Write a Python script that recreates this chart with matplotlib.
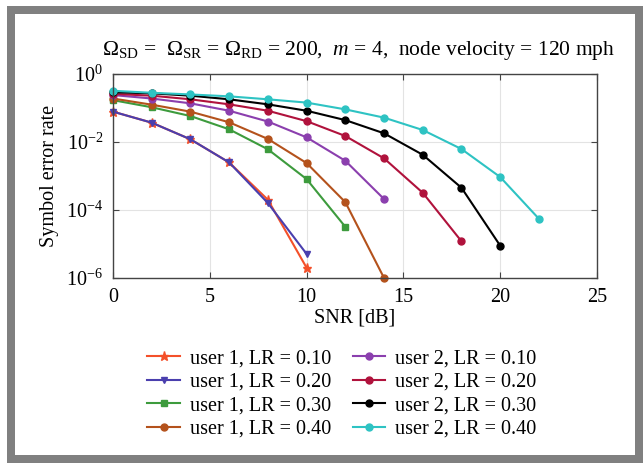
import matplotlib
matplotlib.use("Agg")
import matplotlib.pyplot as plt
from matplotlib.patches import Rectangle
from matplotlib.ticker import NullLocator, LogFormatterSciNotation

plt.rcParams['font.family'] = ['Liberation Serif', 'DejaVu Serif']
plt.rcParams['mathtext.fontset'] = 'custom'
plt.rcParams['mathtext.rm'] = 'Liberation Serif'
plt.rcParams['mathtext.it'] = 'Liberation Serif:italic'

# SNR in dB
snr_u1_10 = [0, 2, 4, 6, 8, 10]
ser_u1_10 = [7.8e-2, 3.7e-2, 1.2e-2, 2.5e-3, 2.0e-4, 2.0e-6]
snr_u1_20 = [0, 2, 4, 6, 8, 10]
ser_u1_20 = [7.8e-2, 3.7e-2, 1.2e-2, 2.5e-3, 1.6e-4, 5.1e-6]
snr_u1_30 = [0, 2, 4, 6, 8, 10, 12]
ser_u1_30 = [0.17, 0.105, 0.058, 0.0236, 6.1e-3, 8.1e-4, 3.2e-5]
snr_u1_40 = [0, 2, 4, 6, 8, 10, 12, 14]
ser_u1_40 = [0.19, 0.125, 0.078, 0.038, 0.0123, 2.4e-3, 1.7e-4, 1.0e-6]
snr_u2_10 = [0, 2, 4, 6, 8, 10, 12, 14]
ser_u2_10 = [0.24, 0.19, 0.137, 0.083, 0.04, 0.0137, 2.8e-3, 2.1e-4]
snr_u2_20 = [0, 2, 4, 6, 8, 10, 12, 14, 16, 18]
ser_u2_20 = [0.26, 0.23, 0.18, 0.128, 0.083, 0.041, 0.015, 3.3e-3, 3.2e-4, 1.2e-5]
snr_u2_30 = [0, 2, 4, 6, 8, 10, 12, 14, 16, 18, 20]
ser_u2_30 = [0.29, 0.27, 0.23, 0.18, 0.128, 0.083, 0.044, 0.018, 4.2e-3, 4.5e-4, 8.9e-6]
snr_u2_40 = [0, 2, 4, 6, 8, 10, 12, 14, 16, 18, 20, 22]
ser_u2_40 = [0.32, 0.28, 0.25, 0.22, 0.18, 0.144, 0.091, 0.052, 0.0225, 6.2e-3, 9.3e-4, 5.5e-5]

series = [
    (snr_u1_10, ser_u1_10, 'user 1, LR = 0.10', '#f4502a', '*'),
    (snr_u1_20, ser_u1_20, 'user 1, LR = 0.20', '#4a3fae', 'v'),
    (snr_u1_30, ser_u1_30, 'user 1, LR = 0.30', '#3d9b3d', 's'),
    (snr_u1_40, ser_u1_40, 'user 1, LR = 0.40', '#b4521c', 'o'),
    (snr_u2_10, ser_u2_10, 'user 2, LR = 0.10', '#8b3fae', 'o'),
    (snr_u2_20, ser_u2_20, 'user 2, LR = 0.20', '#b0123c', 'o'),
    (snr_u2_30, ser_u2_30, 'user 2, LR = 0.30', '#000000', 'o'),
    (snr_u2_40, ser_u2_40, 'user 2, LR = 0.40', '#2ec3c3', 'o'),
]

fig = plt.figure(figsize=(6.43, 4.63), dpi=100)
ax = fig.add_axes([0.1757, 0.3996, 0.7528, 0.4406])

for x, y, lab, col, mk in series:
    ms = 6.5 if mk == '*' else 5
    ax.plot(x, y, color=col, marker=mk, markersize=ms, linewidth=1.5, label=lab,
            clip_on=False)

ax.set_yscale('log')
ax.set_xlim(0, 25)
ax.set_ylim(1e-6, 1)
ax.set_xticks([0, 5, 10, 15, 20, 25])
ax.set_yticks([1e-6, 1e-4, 1e-2, 1])
ax.yaxis.set_minor_locator(NullLocator())
ax.yaxis.set_major_formatter(LogFormatterSciNotation())
ax.grid(True, color='#e3e3e3', linewidth=0.8)
ax.set_axisbelow(True)
ax.tick_params(direction='in', top=True, right=True, labelsize=14.5, length=4,
               color='#444444', pad=7)
for s in ax.spines.values():
    s.set_color('#444444')
    s.set_linewidth(1.0)

ax.set_xlabel('SNR [dB]', fontsize=14.5, labelpad=1)
ax.set_ylabel('Symbol error rate', fontsize=14.5, labelpad=5)

fig.text(0.558, 1 - 51 / 463,
         r'$\Omega_{\rm SD}$ =  $\Omega_{\rm SR}$ = $\Omega_{\rm RD}$ = 200,  $m$ = 4,  node velocity = 120 mph',
         ha='center', va='center', fontsize=15.5)

fig.legend(loc='upper center', bbox_to_anchor=(0.532, 1 - 335 / 463), ncol=2,
           frameon=False, fontsize=14.5, handlelength=1.6, columnspacing=1.1,
           handletextpad=0.5, labelspacing=0.22, borderpad=0.2)

fig.patches.append(Rectangle((11 / 643, 1 - 459 / 463), 628 / 643, 449 / 463,
                             transform=fig.transFigure, fill=False,
                             edgecolor='#808080', linewidth=5.76))

fig.savefig('out.png', dpi=100)
